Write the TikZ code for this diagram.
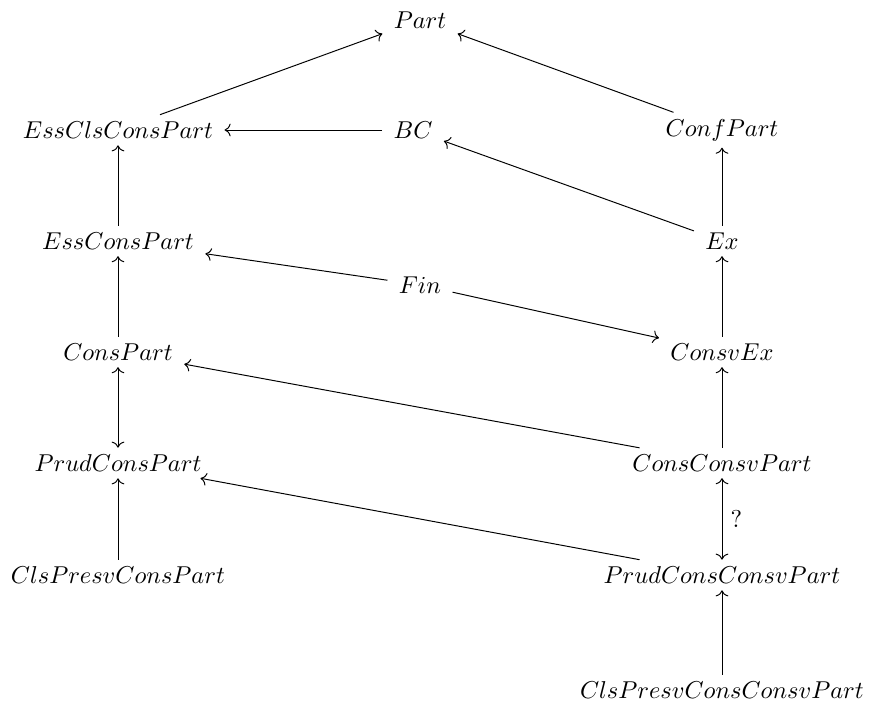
\documentclass[tikz,border=0pt]{standalone}
\usepackage{tikz-cd}
\begin{document}
\begin{tikzpicture}[x=0.41pt,y=-0.41pt,
  cell/.style={inner xsep=0.45em, inner ysep=2.6pt},
  arr/.style={-{tikzcd to}, line width=0.4pt},
  darr/.style={{tikzcd to}-{tikzcd to}, line width=0.4pt}]
\useasboundingbox (0,0) rectangle (870,711);
\node[cell] (part) at (420,20) {$Part$};
\node[cell] (ecc) at (118,130) {$EssClsConsPart$};
\node[cell] (bc) at (413,130) {$BC$};
\node[cell] (conf) at (722,130) {$ConfPart$};
\node[cell] (ecp) at (118,241) {$EssConsPart$};
\node[cell] (ex) at (722,241) {$Ex$};
\node[cell] (fin) at (420,285) {$Fin$};
\node[cell] (cp) at (118,352) {$ConsPart$};
\node[cell] (cex) at (722,352) {$ConsvEx$};
\node[cell] (pcp) at (118,463) {$PrudConsPart$};
\node[cell] (ccp) at (722,463) {$ConsConsvPart$};
\node[cell] (clp) at (118,575) {$ClsPresvConsPart$};
\node[cell] (pccp) at (722,575) {$PrudConsConsvPart$};
\node[cell] (clpc) at (722,690) {$ClsPresvConsConsvPart$};
\draw[arr] (ecc) -- (part);
\draw[arr] (conf) -- (part);
\draw[arr] (bc) -- (ecc);
\draw[arr] (ex) -- (bc);
\draw[arr] (ex) -- (conf);
\draw[arr] (ecp) -- (ecc);
\draw[arr] (fin) -- (ecp);
\draw[arr] (fin) -- (cex);
\draw[arr] (cex) -- (ex);
\draw[arr] (cp) -- (ecp);
\draw[arr] (ccp) -- (cp);
\draw[arr] (ccp) -- (cex);
\draw[darr] (cp) -- (pcp);
\draw[arr] (clp) -- (pcp);
\draw[arr] (pccp) -- (pcp);
\draw[darr] (ccp) -- node[right] {?} (pccp);
\draw[arr] (clpc) -- (pccp);
\end{tikzpicture}
\end{document}
